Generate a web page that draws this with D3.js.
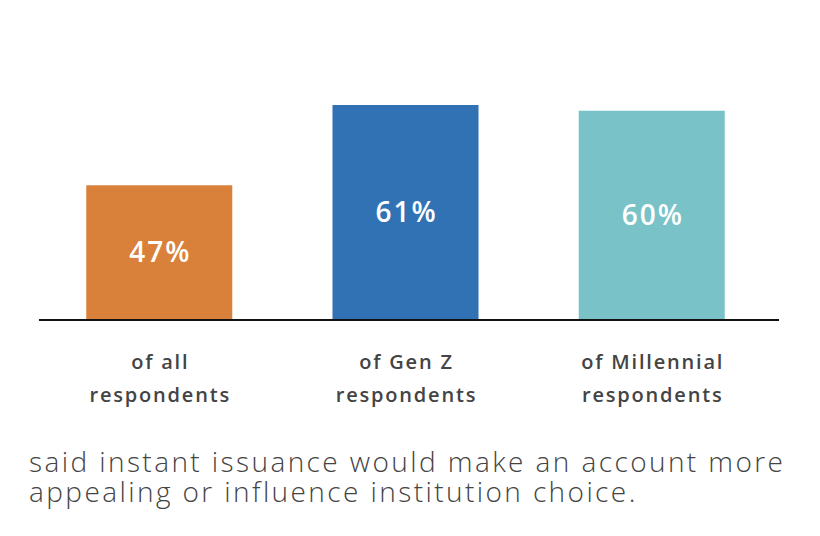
<!DOCTYPE html>
<html>
<head>
<meta charset="utf-8">
<script src="https://cdn.jsdelivr.net/npm/d3@7"></script>
<style>
  html, body { margin: 0; padding: 0; background: #fff; }
  svg { display: block; }
</style>
</head>
<body>
<div id="chart"></div>
<script>
// -------------------- Data --------------------
const categories = ["all", "genz", "millennial"];
const values = [47, 61, 60];
const labelLines = [
    ["of all", "respondents"],
    ["of Gen Z", "respondents"],
    ["of Millennial", "respondents"]
];
const colors = ["#D9813B", "#3172B5", "#79C3C8"];
const captionLines = [
    "said instant issuance would make an account more",
    "appealing or influence institution choice."
];

// -------------------- Setup --------------------
const WIDTH = 820;
const HEIGHT = 536;
const BASELINE = 320;
const FONT = "'Open Sans', sans-serif";

const svg = d3.select("#chart")
    .append("svg")
    .attr("width", WIDTH)
    .attr("height", HEIGHT);

const x = d3.scaleBand()
    .domain(categories)
    .range([37, 774])
    .paddingInner(0.407)
    .paddingOuter(0.2);

// the bars in the original don't start at zero
const y = d3.scaleLinear()
    .domain([23.5, 61])
    .range([BASELINE, 105]);

const data = categories.map((c, i) => ({ key: c, value: values[i], color: colors[i], lines: labelLines[i] }));

// bars
svg.append("g")
    .selectAll("rect")
    .data(data)
    .join("rect")
    .attr("x", d => x(d.key))
    .attr("y", d => y(d.value))
    .attr("width", x.bandwidth())
    .attr("height", d => BASELINE - y(d.value))
    .attr("fill", d => d.color);

// value labels (letter-spacing to mimic the wide original face)
svg.append("g")
    .attr("font-family", FONT)
    .attr("font-weight", 600)
    .attr("font-size", 28)
    .attr("letter-spacing", 2)
    .attr("fill", "#fff")
    .attr("text-anchor", "middle")
    .selectAll("text")
    .data(data)
    .join("text")
    .attr("x", d => x(d.key) + x.bandwidth() / 2 + 1)
    .attr("y", d => (y(d.value) + BASELINE) / 2)
    .attr("dy", "0.35em")
    .text(d => d.value + "%");

// axis line
svg.append("line")
    .attr("x1", 39)
    .attr("x2", 779)
    .attr("y1", BASELINE)
    .attr("y2", BASELINE)
    .attr("stroke", "#111")
    .attr("stroke-width", 2);

// category labels
const catText = svg.append("g")
    .attr("font-family", FONT)
    .attr("font-weight", 600)
    .attr("font-size", 20)
    .attr("letter-spacing", 1.8)
    .attr("fill", "#444")
    .attr("text-anchor", "middle")
    .selectAll("text")
    .data(data)
    .join("text")
    .attr("x", d => x(d.key) + x.bandwidth() / 2 + 1);

catText.selectAll("tspan")
    .data(d => d.lines)
    .join("tspan")
    .attr("x", function () { return d3.select(this.parentNode).attr("x"); })
    .attr("y", (d, i) => 362 + i * 33)
    .attr("dy", "0.35em")
    .text(d => d);

// caption
const caption = svg.append("g")
    .attr("font-family", FONT)
    .attr("font-weight", 300)
    .attr("font-size", 28)
    .attr("fill", "#444")
    .selectAll("text")
    .data(captionLines)
    .join("text")
    .attr("x", 29)
    .attr("y", (d, i) => 462 + i * 30)
    .attr("dy", "0.35em")
    .text(d => d);

// stretch the caption's spacing so the first line spans the same width as the original
const natural = caption.node().getComputedTextLength();
const spacing = (754 - natural) / (captionLines[0].length - 1);
caption.attr("letter-spacing", spacing);
</script>
</body>
</html>
